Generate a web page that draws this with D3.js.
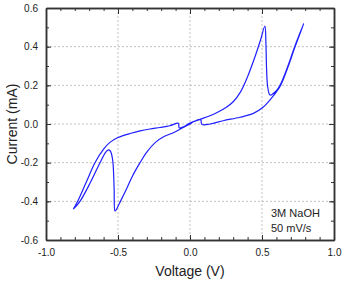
<!DOCTYPE html>
<html>
<head>
<meta charset="utf-8">
<script src="https://cdn.jsdelivr.net/npm/d3@7"></script>
<style>
  body { margin: 0; background: #fff; }
  text { font-family: "Liberation Sans", Arial, sans-serif; }
</style>
</head>
<body>
<div id="chart"></div>
<script>
// sweep order: anodic from the negative vertex, then back (cathodic)
var voltage = [-0.81, -0.78, -0.72, -0.66, -0.6, -0.556, -0.5, -0.41, -0.347, -0.278, -0.208, -0.14, -0.081,
  -0.075, -0.05, 0.0, 0.069, 0.13, 0.185, 0.25, 0.3, 0.35, 0.4, 0.45, 0.49, 0.52,
  0.527, 0.532, 0.54, 0.556, 0.6, 0.625, 0.68, 0.727, 0.79,
  0.73, 0.683, 0.628, 0.6, 0.567, 0.509, 0.44, 0.347, 0.231, 0.139, 0.082,
  0.076, 0.069, 0.03, 0.0, -0.04, -0.07, -0.116, -0.18, -0.24, -0.3, -0.347, -0.4, -0.44, -0.49, -0.515, -0.521,
  -0.527, -0.535, -0.545, -0.556, -0.567, -0.585, -0.625, -0.69, -0.764, -0.81];
var current = [-0.44, -0.4, -0.3, -0.2, -0.13, -0.095, -0.07, -0.048, -0.036, -0.026, -0.018, -0.009, 0.004,
  -0.02, -0.016, 0.005, 0.024, 0.04, 0.058, 0.085, 0.115, 0.165, 0.245, 0.345, 0.435, 0.507,
  0.42, 0.28, 0.19, 0.15, 0.172, 0.2, 0.3, 0.4, 0.52,
  0.4, 0.3, 0.198, 0.166, 0.135, 0.088, 0.055, 0.035, 0.017, 0.0, -0.002,
  0.02, 0.024, 0.014, 0.0, -0.015, -0.027, -0.045, -0.065, -0.095, -0.145, -0.2, -0.27, -0.335, -0.41, -0.447, -0.45,
  -0.33, -0.2, -0.155, -0.137, -0.134, -0.145, -0.2, -0.3, -0.4, -0.44];

var xTicks = [-1.0, -0.5, 0.0, 0.5, 1.0];
var yTicks = [-0.6, -0.4, -0.2, 0.0, 0.2, 0.4, 0.6];
var notes = ["3M NaOH", "50 mV/s"];

var width = 349, height = 284;
var pLeft = 46, pRight = 334, pTop = 8, pBottom = 240;

var svg = d3.select("#chart").append("svg")
    .attr("width", width)
    .attr("height", height);

var x = d3.scaleLinear().domain([-1, 1]).range([pLeft, pRight]);
var y = d3.scaleLinear().domain([-0.6, 0.6]).range([pBottom, pTop]);

// dashed grid on the inner major ticks
svg.append("g").selectAll("line")
  .data(xTicks.slice(1, -1))
  .enter().append("line")
    .attr("x1", function(d) { return x(d); })
    .attr("x2", function(d) { return x(d); })
    .attr("y1", pTop).attr("y2", pBottom)
    .attr("stroke", "#b0b0b0").attr("stroke-width", 0.8)
    .attr("stroke-dasharray", "2,2");
svg.append("g").selectAll("line")
  .data(yTicks.slice(1, -1))
  .enter().append("line")
    .attr("y1", function(d) { return y(d); })
    .attr("y2", function(d) { return y(d); })
    .attr("x1", pLeft).attr("x2", pRight)
    .attr("stroke", "#b0b0b0").attr("stroke-width", 0.8)
    .attr("stroke-dasharray", "2,2");

// axes, ticks pointing inward; plain hyphen for negatives
var fmt = function(d) { return d3.format(".1f")(d).replace("\u2212", "-"); };

var xMinor = d3.range(-10, 11).map(function(i) { return i / 10; });
var yMinor = d3.range(-6, 7).map(function(i) { return i / 10; });

svg.append("g").attr("transform", "translate(0," + pBottom + ")")
  .call(d3.axisBottom(x).tickValues(xMinor).tickFormat("").tickSizeInner(-3).tickSizeOuter(0));
svg.append("g").attr("transform", "translate(0," + pBottom + ")")
  .call(d3.axisBottom(x).tickValues(xTicks).tickFormat(fmt).tickSizeInner(-5).tickSizeOuter(0).tickPadding(9));
svg.append("g").attr("transform", "translate(0," + pTop + ")")
  .call(d3.axisTop(x).tickValues(xMinor).tickFormat("").tickSizeInner(-3).tickSizeOuter(0));
svg.append("g").attr("transform", "translate(0," + pTop + ")")
  .call(d3.axisTop(x).tickValues(xTicks).tickFormat("").tickSizeInner(-6).tickSizeOuter(0));

svg.append("g").attr("transform", "translate(" + pLeft + ",0)")
  .call(d3.axisLeft(y).tickValues(yMinor).tickFormat("").tickSizeInner(-3).tickSizeOuter(0));
svg.append("g").attr("transform", "translate(" + pLeft + ",0)")
  .call(d3.axisLeft(y).tickValues(yTicks).tickFormat(fmt).tickSizeInner(-5).tickSizeOuter(0).tickPadding(8));
svg.append("g").attr("transform", "translate(" + pRight + ",0)")
  .call(d3.axisRight(y).tickValues(yMinor).tickFormat("").tickSizeInner(-3).tickSizeOuter(0));
svg.append("g").attr("transform", "translate(" + pRight + ",0)")
  .call(d3.axisRight(y).tickValues(yTicks).tickFormat("").tickSizeInner(-5).tickSizeOuter(0));

svg.selectAll(".domain").attr("stroke", "#333").attr("stroke-width", 1.5);
svg.selectAll(".tick line").attr("stroke", "#333").attr("stroke-width", 1);
svg.selectAll(".tick text").attr("font-size", "10px").attr("fill", "#222")
  .style("font-family", "'Liberation Sans', Arial, sans-serif");

// the voltammogram
var pts = voltage.map(function(v, i) { return [v, current[i]]; });
var line = d3.line()
    .x(function(d) { return x(d[0]); })
    .y(function(d) { return y(d[1]); })
    .curve(d3.curveCatmullRom.alpha(0.5));

svg.append("path")
  .datum(pts)
  .attr("d", line)
  .attr("fill", "none")
  .attr("stroke", "#1f1fff")
  .attr("stroke-width", 1.2)
  .attr("stroke-linejoin", "round");

// labels
svg.append("text")
  .attr("x", (pLeft + pRight) / 2).attr("y", 276)
  .attr("text-anchor", "middle")
  .attr("font-size", "14px").attr("fill", "#222")
  .text("Voltage (V)");

svg.append("text")
  .attr("transform", "translate(17," + (pTop + pBottom) / 2 + ") rotate(-90)")
  .attr("text-anchor", "middle")
  .attr("font-size", "14px").attr("fill", "#222")
  .text("Current (mA)");

svg.append("g").selectAll("text")
  .data(notes)
  .enter().append("text")
    .attr("x", 271)
    .attr("y", function(d, i) { return 217 + i * 15; })
    .attr("font-size", "11px").attr("fill", "#222")
    .text(function(d) { return d; });
</script>
</body>
</html>
